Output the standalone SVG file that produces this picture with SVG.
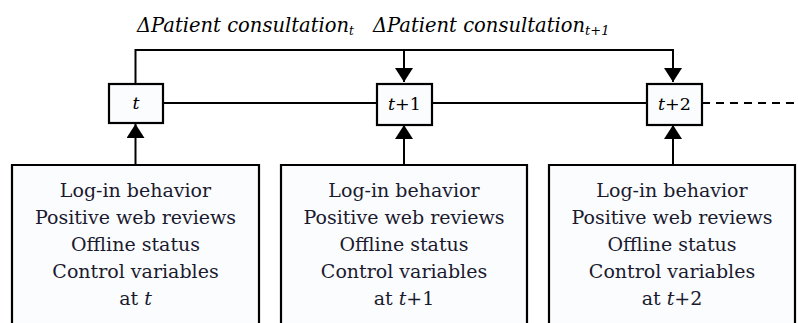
<svg xmlns="http://www.w3.org/2000/svg" width="798" height="323" viewBox="0 0 798 323">
<defs>
<style>
.box{fill:#fbfcfe;stroke:#000;stroke-width:2.2}
.ln{fill:none;stroke:#000;stroke-width:2}
.lbl{font-family:"DejaVu Serif","Liberation Serif",serif;font-size:19px;fill:#1a1a2e;text-anchor:middle}
.small{font-family:"DejaVu Serif","Liberation Serif",serif;font-size:17.5px;fill:#000;text-anchor:middle}
.math{font-family:"DejaVu Serif","Liberation Serif",serif;font-style:italic;font-size:19.5px;fill:#000}
</style>
<marker id="ah2" viewBox="0 0 12 10" refX="12" refY="5" markerWidth="14" markerHeight="18" markerUnits="userSpaceOnUse" orient="auto" preserveAspectRatio="none">
<path d="M0,0 L12,5 L0,10 z" fill="#000"/>
</marker>
</defs>
<g id="connectors">
<path class="ln" d="M135.5,84 V50 H673 V82" />
<path class="ln" d="M404,50 V82" marker-end="url(#ah2)"/>
<path class="ln" d="M673,50 V82" marker-end="url(#ah2)"/>
<path class="ln" d="M163,103 H377 M432,103 H647"/>
<path class="ln" d="M702,103 H798" stroke-dasharray="8,6"/>
<path class="ln" d="M135.5,164 V124" marker-end="url(#ah2)"/>
<path class="ln" d="M404,164 V125" marker-end="url(#ah2)"/>
<path class="ln" d="M673,164 V125" marker-end="url(#ah2)"/>
</g>
<g id="labels">
<text class="math" x="137" y="32">ΔPatient consultation<tspan font-size="12" dy="3">t</tspan></text>
<text class="math" x="373" y="32">ΔPatient consultation<tspan font-size="13" dy="3">t+1</tspan></text>
</g>
<g id="node-t">
<rect class="box" x="109" y="84" width="54" height="39"/>
<text class="small" x="136" y="109"><tspan font-style="italic">t</tspan></text>
</g>
<g id="node-t1">
<rect class="box" x="377" y="84" width="55" height="41"/>
<text class="small" x="404.5" y="110"><tspan font-style="italic">t</tspan>+1</text>
</g>
<g id="node-t2">
<rect class="box" x="647" y="84" width="55" height="41"/>
<text class="small" x="674.5" y="110"><tspan font-style="italic">t</tspan>+2</text>
</g>
<g id="box-t">
<path class="box" d="M12,324 V165 H259 V324"/>
<text class="lbl" x="135.5" y="197">Log-in behavior</text>
<text class="lbl" x="135.5" y="224">Positive web reviews</text>
<text class="lbl" x="135.5" y="251">Offline status</text>
<text class="lbl" x="135.5" y="278">Control variables</text>
<text class="lbl" x="135.5" y="305">at <tspan font-style="italic">t</tspan></text>
</g>
<g id="box-t1">
<path class="box" d="M281,324 V165 H527 V324"/>
<text class="lbl" x="404" y="197">Log-in behavior</text>
<text class="lbl" x="404" y="224">Positive web reviews</text>
<text class="lbl" x="404" y="251">Offline status</text>
<text class="lbl" x="404" y="278">Control variables</text>
<text class="lbl" x="404" y="305">at <tspan font-style="italic">t</tspan>+1</text>
</g>
<g id="box-t2">
<path class="box" d="M549,324 V165 H795 V324"/>
<text class="lbl" x="672" y="197">Log-in behavior</text>
<text class="lbl" x="672" y="224">Positive web reviews</text>
<text class="lbl" x="672" y="251">Offline status</text>
<text class="lbl" x="672" y="278">Control variables</text>
<text class="lbl" x="672" y="305">at <tspan font-style="italic">t</tspan>+2</text>
</g>
</svg>
